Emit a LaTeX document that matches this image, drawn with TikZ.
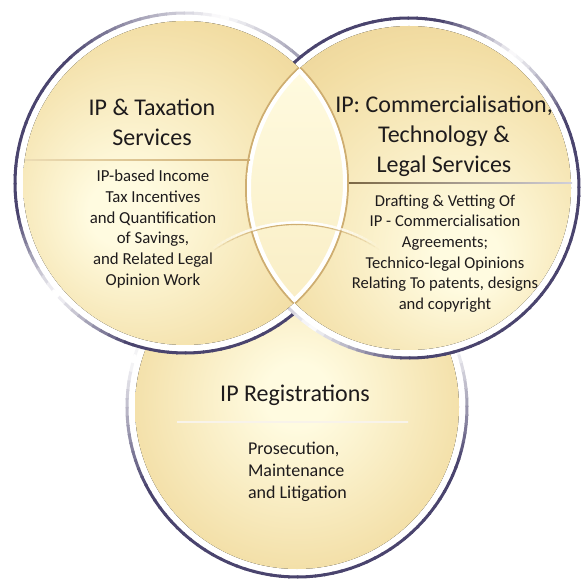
\documentclass[tikz,border=0pt]{standalone}
\usepackage{fontspec}
\setmainfont{Carlito}

\definecolor{ringnavy}{RGB}{74,68,110}
\definecolor{goldin}{RGB}{255,251,224}
\definecolor{goldmid}{RGB}{242,221,163}
\definecolor{goldout}{RGB}{220,189,130}
\definecolor{goldedge}{RGB}{206,173,113}
\definecolor{inktext}{RGB}{30,27,28}

\pgfdeclareradialshading{glowleft}{\pgfpoint{-11bp}{-5bp}}{color(0bp)=(goldin); color(5bp)=(goldin); color(28bp)=(goldmid); color(50bp)=(goldout)}
\pgfdeclareradialshading{glowright}{\pgfpoint{10bp}{-12bp}}{color(0bp)=(goldin); color(5bp)=(goldin); color(28bp)=(goldmid); color(50bp)=(goldout)}
\pgfdeclareradialshading{glowbottom}{\pgfpoint{0bp}{2bp}}{color(0bp)=(goldin); color(5bp)=(goldin); color(28bp)=(goldmid); color(50bp)=(goldout)}

% metal ring: centre x, centre y, two light angles and their half widths
\newcommand{\metalring}[6]{%
  \foreach \a in {0,3,...,357}{%
    \pgfmathsetmacro{\angA}{mod(\a-#3+540,360)-180}%
    \pgfmathsetmacro{\angB}{mod(\a-#4+540,360)-180}%
    \pgfmathsetmacro{\lightA}{max(0,1-abs(\angA)/#5)}%
    \pgfmathsetmacro{\lightB}{max(0,1-abs(\angB)/#6)}%
    \pgfmathsetmacro{\shadepct}{100*(1-min(1,\lightA+\lightB))}%
    \draw[ring line,draw=ringnavy!\shadepct!white] (#1,#2) ++(\a:170) arc[start angle=\a,end angle=\a+3.5,radius=170];
  }}

\begin{document}
\begin{tikzpicture}[x=1pt,y=1pt,
  ring line/.style={line width=3pt,line cap=butt},
  ring gap/.style={fill=white},
  lens line/.style={draw=white,line width=8pt},
  lens shadow/.style={draw=goldedge,line width=4pt},
  title text/.style={text=inktext,align=center,inner sep=0pt,
    font=\fontsize{24}{30}\selectfont},
  body text/.style={text=inktext,align=center,inner sep=0pt,
    font=\fontsize{16.8}{20.7}\selectfont}]

  \useasboundingbox (0,0) rectangle (581,579);
  \fill[white] (0,0) rectangle (581,579);

  \coordinate (reg) at (297,172);
  \coordinate (tax) at (185,396);
  \coordinate (com) at (409,391);

  % registrations circle lies under the other two
  \fill[ring gap] (reg) circle[radius=170];
  \metalring{297}{172}{162}{20}{45}{40}
  \fill[shading=glowbottom] (reg) circle[radius=162];

  % rings of the upper circles first, discs after
  \fill[ring gap] (tax) circle[radius=170];
  \metalring{185}{396}{76}{219}{56}{30}
  \fill[ring gap] (com) circle[radius=170];
  \metalring{409}{391}{50}{233}{28}{35}
  \fill[shading=glowleft] (tax) circle[radius=162];
  \fill[shading=glowright] (com) circle[radius=162];

  % overlap of the upper circles
  \begin{scope}
    \clip (tax) circle[radius=162];
    \draw[lens shadow] (com) circle[radius=162];
  \end{scope}
  \begin{scope}
    \clip (com) circle[radius=162];
    \draw[lens shadow] (tax) circle[radius=162];
  \end{scope}
  \begin{scope}
    \clip (tax) circle[radius=162];
    \clip (com) circle[radius=162];
    \shade[top color=goldin,bottom color=goldin!55!goldmid] (240,270) rectangle (355,515);
    \draw[lens line] (tax) circle[radius=162];
    \draw[lens line] (com) circle[radius=162];
  \end{scope}

  % arc of the lower circle through the overlap, fading at its ends
  \coordinate (arcmid) at (297,208);
  \foreach \a in {56,58,...,122}{
    \pgfmathsetmacro{\op}{sin((\a-55)/70*180)}
    \draw[goldedge,line width=1.2pt,draw opacity=\op]
      (arcmid) ++(\a:146.6) arc[start angle=\a,end angle=\a+2.2,radius=146.6];
    \draw[white,line width=2.4pt,draw opacity=\op]
      (arcmid) ++(\a:148.6) arc[start angle=\a,end angle=\a+2.2,radius=148.6];
  }

  % dividers
  \shade[left color=goldin!60!goldedge,right color=goldedge] (25,418.4) rectangle (250,419.8);
  \shade[left color=goldedge!60!black,right color=ringnavy!25!white] (349,395.3) rectangle (572,396.7);
  \shade[left color=white!85!goldedge,middle color=goldedge,right color=white!85!goldedge] (177,156.3) rectangle (408,157.7);

  % texts
  \node[title text] (taxtitle) at (152,457) {IP \& Taxation\\Services};
  \node[body text] (taxbody) at (153,350)
    {IP-based Income\\Tax Incentives\\and Quantification\\of Savings,\\and Related Legal\\Opinion Work};
  \node[title text] (comtitle) at (444,443)
    {IP: Commercialisation,\\Technology \&\\Legal Services};
  \node[body text,font=\fontsize{16.6}{20.6}\selectfont] (combody) at (445,325.5)
    {Drafting \& Vetting Of\\IP - Commercialisation\\Agreements;\\Technico-legal Opinions\\Relating To patents, designs\\and copyright};
  \node[title text] (regtitle) at (295,184) {IP Registrations};
  \node[body text,align=left,font=\fontsize{18}{22}\selectfont] (regbody) at (297.5,107)
    {Prosecution,\\Maintenance\\and Litigation};
\end{tikzpicture}
\end{document}
